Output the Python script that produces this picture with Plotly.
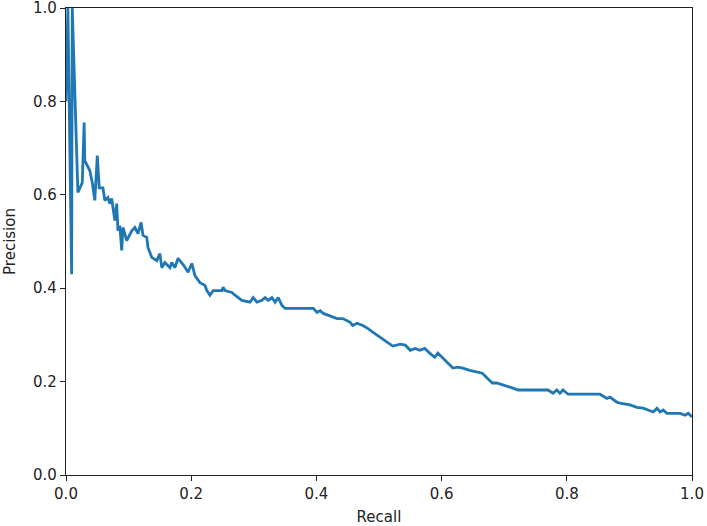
import plotly.graph_objects as go

# precision-recall curve
recall = [0.000, 0.003, 0.009, 0.010, 0.019, 0.026, 0.029, 0.030, 0.038, 0.042,
          0.046, 0.050, 0.053, 0.059, 0.062, 0.067, 0.070, 0.073, 0.078, 0.081,
          0.083, 0.086, 0.089, 0.091, 0.097, 0.105, 0.110, 0.115, 0.120, 0.123,
          0.129, 0.131, 0.137, 0.145, 0.150, 0.153, 0.158, 0.166, 0.169, 0.174,
          0.179, 0.188, 0.195, 0.201, 0.206, 0.214, 0.222, 0.225, 0.230, 0.235,
          0.249, 0.251, 0.254, 0.265, 0.270, 0.275, 0.281, 0.294, 0.299, 0.305,
          0.313, 0.318, 0.323, 0.329, 0.334, 0.339, 0.345, 0.350, 0.395, 0.401,
          0.406, 0.411, 0.419, 0.425, 0.433, 0.442, 0.454, 0.458, 0.465, 0.474,
          0.482, 0.490, 0.502, 0.513, 0.522, 0.534, 0.542, 0.550, 0.558, 0.565,
          0.573, 0.581, 0.589, 0.594, 0.602, 0.610, 0.618, 0.626, 0.634, 0.645,
          0.658, 0.665, 0.673, 0.681, 0.688, 0.698, 0.709, 0.714, 0.722, 0.770,
          0.778, 0.784, 0.789, 0.794, 0.802, 0.853, 0.864, 0.869, 0.880, 0.885,
          0.901, 0.912, 0.922, 0.938, 0.944, 0.949, 0.954, 0.960, 0.981, 0.989,
          0.994, 1.000]
precision = [0.800, 1.000, 0.430, 1.000, 0.605, 0.626, 0.755, 0.673, 0.652, 0.626,
             0.588, 0.684, 0.615, 0.615, 0.588, 0.594, 0.581, 0.592, 0.545, 0.581,
             0.523, 0.534, 0.481, 0.530, 0.502, 0.523, 0.530, 0.517, 0.541, 0.513,
             0.509, 0.487, 0.466, 0.459, 0.474, 0.444, 0.455, 0.444, 0.455, 0.444,
             0.464, 0.449, 0.434, 0.453, 0.427, 0.412, 0.406, 0.395, 0.385, 0.395,
             0.395, 0.402, 0.395, 0.391, 0.385, 0.380, 0.374, 0.370, 0.380, 0.370,
             0.374, 0.380, 0.374, 0.380, 0.370, 0.380, 0.363, 0.357, 0.357, 0.348,
             0.352, 0.346, 0.342, 0.338, 0.335, 0.335, 0.327, 0.320, 0.325, 0.320,
             0.314, 0.306, 0.295, 0.284, 0.276, 0.280, 0.278, 0.267, 0.271, 0.267,
             0.271, 0.261, 0.252, 0.261, 0.250, 0.241, 0.229, 0.231, 0.229, 0.224,
             0.220, 0.218, 0.207, 0.197, 0.197, 0.192, 0.188, 0.186, 0.182, 0.182,
             0.175, 0.182, 0.175, 0.182, 0.173, 0.173, 0.164, 0.167, 0.156, 0.154,
             0.150, 0.145, 0.143, 0.135, 0.143, 0.135, 0.139, 0.132, 0.132, 0.128,
             0.132, 0.124]

tickVals = [0.0, 0.2, 0.4, 0.6, 0.8, 1.0]
tickText = ['0.0', '0.2', '0.4', '0.6', '0.8', '1.0']

fig = go.Figure(go.Scatter(
    x=recall, y=precision,
    mode='lines',
    line=dict(color='#1f77b4', width=2.8),
    cliponaxis=True,
))

axisStyle = dict(
    range=[0, 1],
    tickvals=tickVals,
    ticktext=tickText,
    ticks='outside',
    ticklen=5,
    tickwidth=1,
    tickcolor='#222',
    showline=True,
    linecolor='#222',
    linewidth=1.2,
    mirror=True,
    showgrid=False,
    zeroline=False,
    automargin=False,
    ticklabeloverflow='allow',
    tickfont=dict(family='DejaVu Sans', size=15, color='#222'),
)

fig.update_layout(
    width=707,
    height=526,
    autosize=False,
    plot_bgcolor='white',
    paper_bgcolor='white',
    showlegend=False,
    margin=dict(l=66, r=15, t=8, b=51),
    xaxis=dict(axisStyle, title=dict(text='Recall', standoff=9,
                                      font=dict(family='DejaVu Sans', size=15, color='#222'))),
    yaxis=dict(axisStyle, title=dict(text='Precision', standoff=13,
                                      font=dict(family='DejaVu Sans', size=15, color='#222'))),
)

# the page body has a default 8px margin; drop it so the figure fills the window
fig.write_html("out.html", config={'displayModeBar': False},
               post_script="document.body.style.margin='0';")
